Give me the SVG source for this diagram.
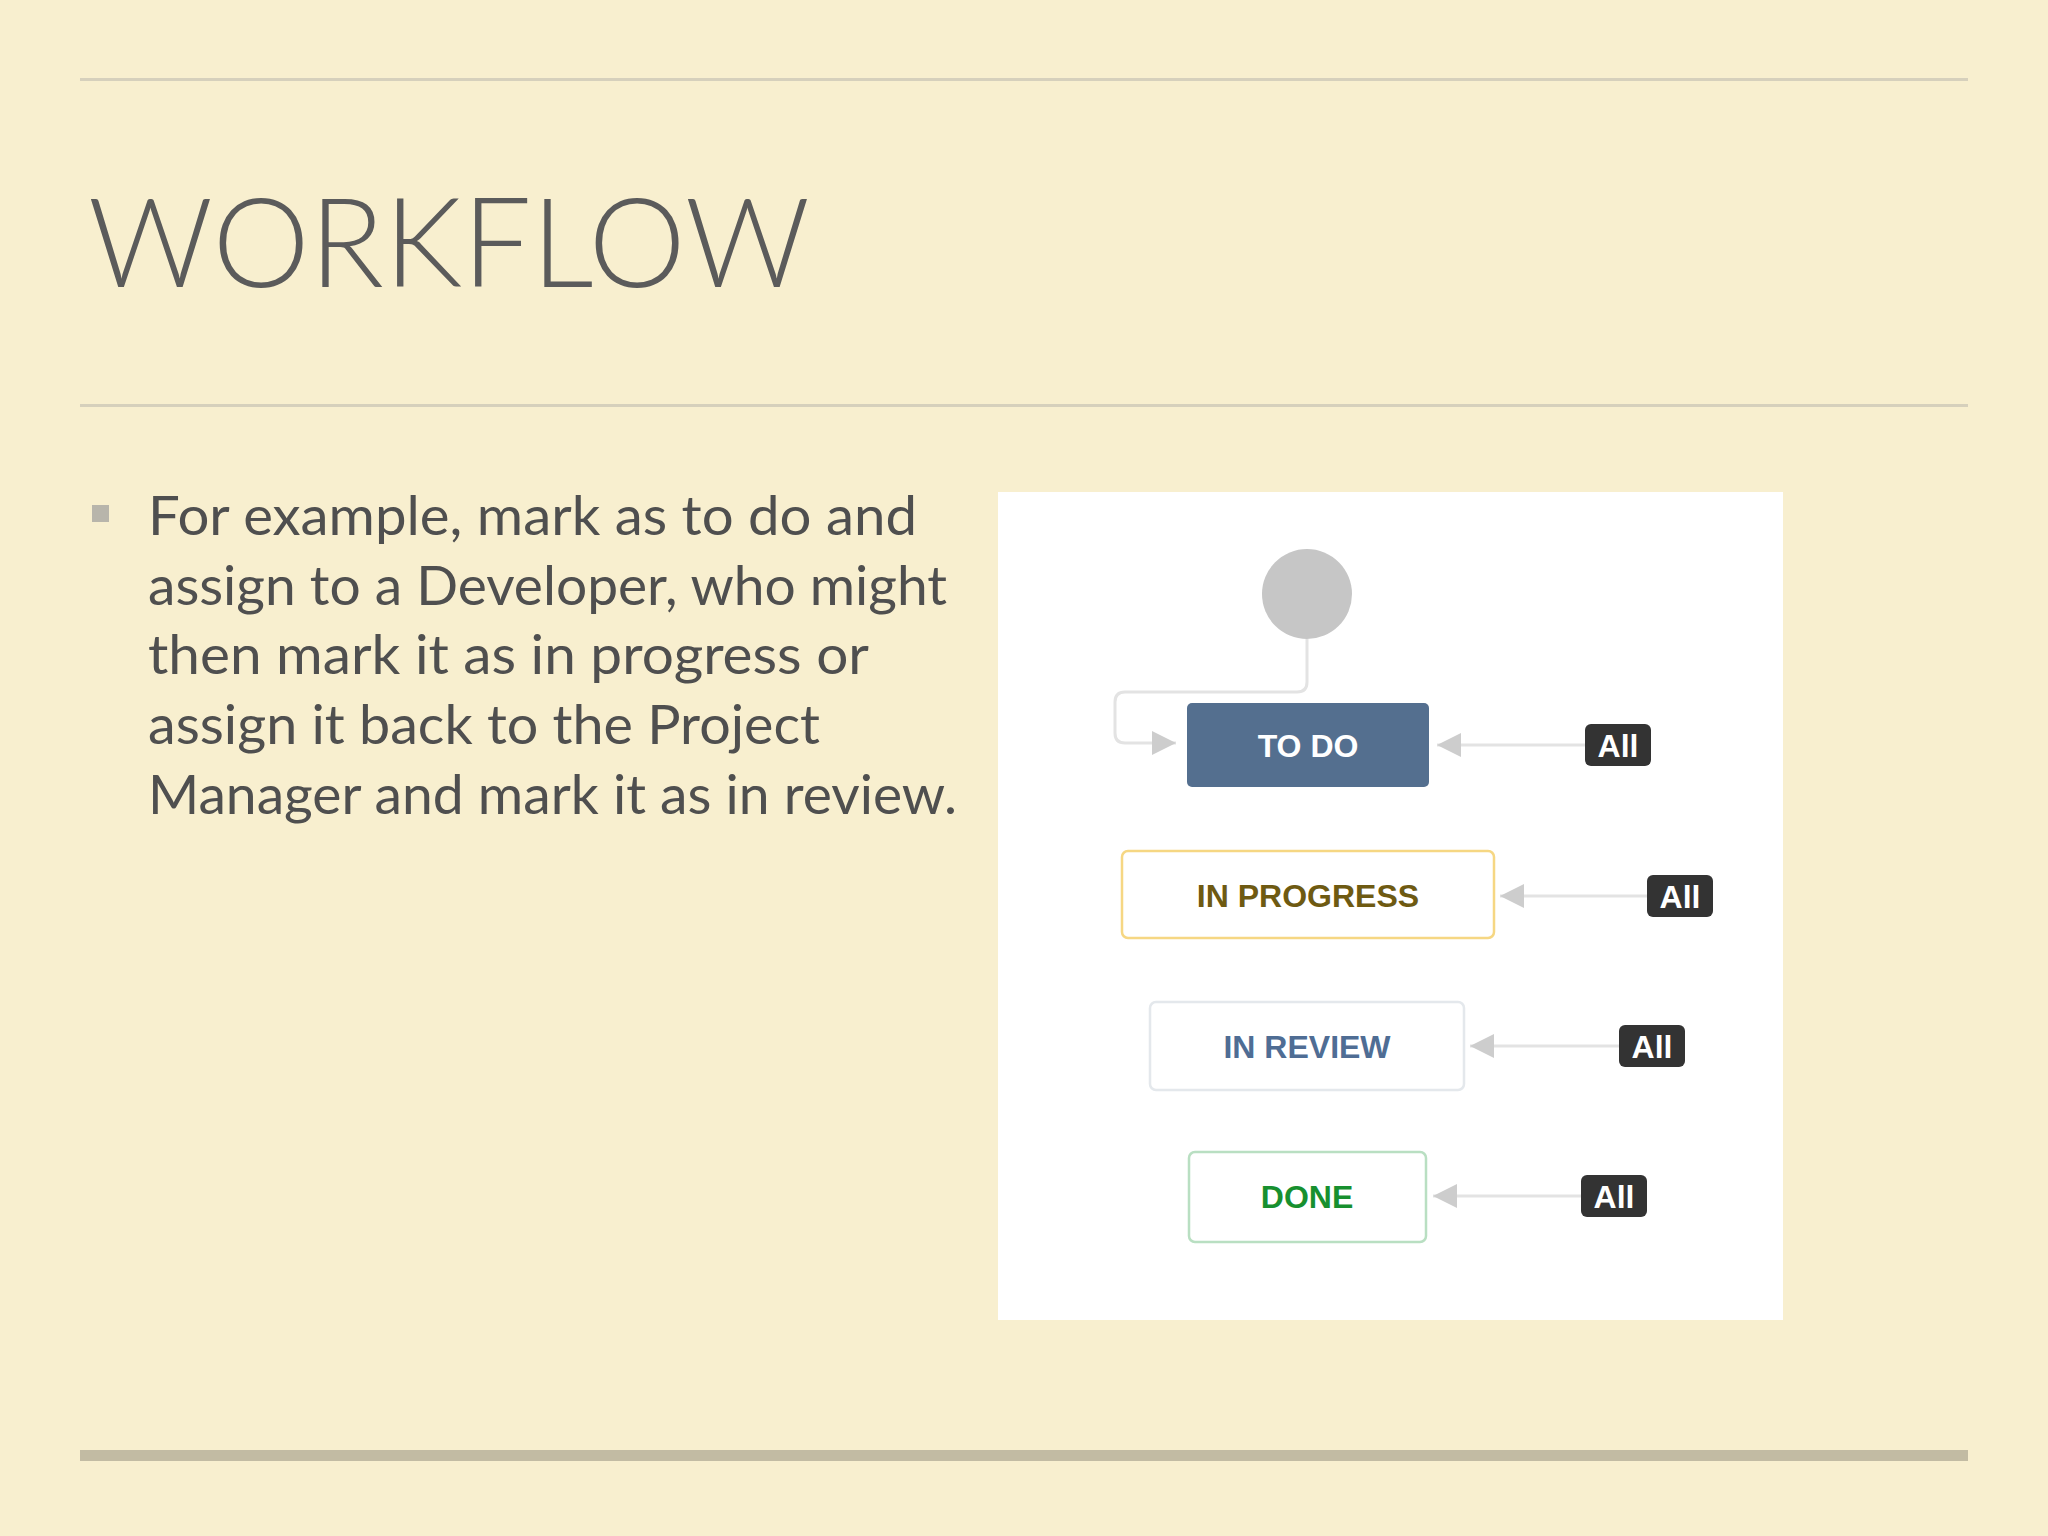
<svg xmlns="http://www.w3.org/2000/svg" width="2048" height="1536" viewBox="0 0 2048 1536">
  <style>
    .rule { fill: #d6d0bc; }
    .title { font-family: "Lato", "Liberation Sans", sans-serif; font-weight: 300; font-size: 125px; fill: #5b5b5b; }
    .body { font-family: "Lato", "Liberation Sans", sans-serif; font-size: 55px; fill: #4f4f4f; }
    .state { font-family: "Liberation Sans", Arial, sans-serif; font-weight: bold; font-size: 32px; text-anchor: middle; }
    .badge rect { fill: #333333; }
    .badge text { font-family: "Liberation Sans", Arial, sans-serif; font-weight: bold; font-size: 32px; fill: #ffffff; text-anchor: middle; }
    .conn { fill: none; stroke: #e3e3e3; stroke-width: 3; }
  </style>
  <defs>
    <marker id="arrow" markerUnits="userSpaceOnUse" markerWidth="24" markerHeight="24" refX="24" refY="12" orient="auto">
      <path d="M0,0 L24,12 L0,24 Z" fill="#cdcdcd"/>
    </marker>
  </defs>

  <!-- slide background -->
  <rect x="0" y="0" width="2048" height="1536" fill="#f8efcf"/>
  <rect class="rule" x="80" y="78" width="1888" height="3"/>
  <rect class="rule" x="80" y="404" width="1888" height="3"/>
  <rect x="80" y="1450" width="1888" height="11" fill="#c2bba3"/>

  <text class="title" x="88" y="287" textLength="722" lengthAdjust="spacingAndGlyphs">WORKFLOW</text>

  <rect x="92" y="505" width="17" height="17" fill="#b8b5ab"/>
  <g class="body">
    <text x="148" y="535" textLength="769" lengthAdjust="spacingAndGlyphs">For example, mark as to do and</text>
    <text x="148" y="605" textLength="799" lengthAdjust="spacingAndGlyphs">assign to a Developer, who might</text>
    <text x="148" y="674" textLength="721" lengthAdjust="spacingAndGlyphs">then mark it as in progress or</text>
    <text x="148" y="744" textLength="672" lengthAdjust="spacingAndGlyphs">assign it back to the Project</text>
    <text x="148" y="814" textLength="809" lengthAdjust="spacingAndGlyphs">Manager and mark it as in review.</text>
  </g>

  <!-- workflow panel -->
  <rect x="998" y="492" width="785" height="828" fill="#ffffff"/>

  <g id="connectors">
    <path class="conn" d="M1307 639 V682 Q1307 692 1297 692 H1125 Q1115 692 1115 702 V733 Q1115 743 1125 743 H1176" marker-end="url(#arrow)"/>
    <path class="conn" d="M1585 745 H1437" marker-end="url(#arrow)"/>
    <path class="conn" d="M1647 896 H1500" marker-end="url(#arrow)"/>
    <path class="conn" d="M1619 1046 H1470" marker-end="url(#arrow)"/>
    <path class="conn" d="M1581 1196 H1433" marker-end="url(#arrow)"/>
  </g>

  <g id="start">
    <circle cx="1307" cy="594" r="45" fill="#c6c6c6"/>
  </g>

  <g id="todo">
    <rect x="1187" y="703" width="242" height="84" rx="5" fill="#546f8f"/>
    <text class="state" x="1308" y="757" fill="#ffffff">TO DO</text>
  </g>

  <g id="inprogress">
    <rect x="1122" y="851" width="372" height="87" rx="6" fill="#ffffff" stroke="#f6d783" stroke-width="2.5"/>
    <text class="state" x="1308" y="907" fill="#6e5a12">IN PROGRESS</text>
  </g>

  <g id="inreview">
    <rect x="1150" y="1002" width="314" height="88" rx="6" fill="#ffffff" stroke="#e4e8ec" stroke-width="2.5"/>
    <text class="state" x="1307" y="1058" fill="#4f6d94">IN REVIEW</text>
  </g>

  <g id="done">
    <rect x="1189" y="1152" width="237" height="90" rx="6" fill="#ffffff" stroke="#b9dfc2" stroke-width="2.5"/>
    <text class="state" x="1307" y="1208" fill="#17902f">DONE</text>
  </g>

  <g id="all-todo" class="badge">
    <rect x="1585" y="724" width="66" height="42" rx="6"/>
    <text x="1618" y="757">All</text>
  </g>
  <g id="all-inprogress" class="badge">
    <rect x="1647" y="875" width="66" height="42" rx="6"/>
    <text x="1680" y="908">All</text>
  </g>
  <g id="all-inreview" class="badge">
    <rect x="1619" y="1025" width="66" height="42" rx="6"/>
    <text x="1652" y="1058">All</text>
  </g>
  <g id="all-done" class="badge">
    <rect x="1581" y="1175" width="66" height="42" rx="6"/>
    <text x="1614" y="1208">All</text>
  </g>
</svg>
